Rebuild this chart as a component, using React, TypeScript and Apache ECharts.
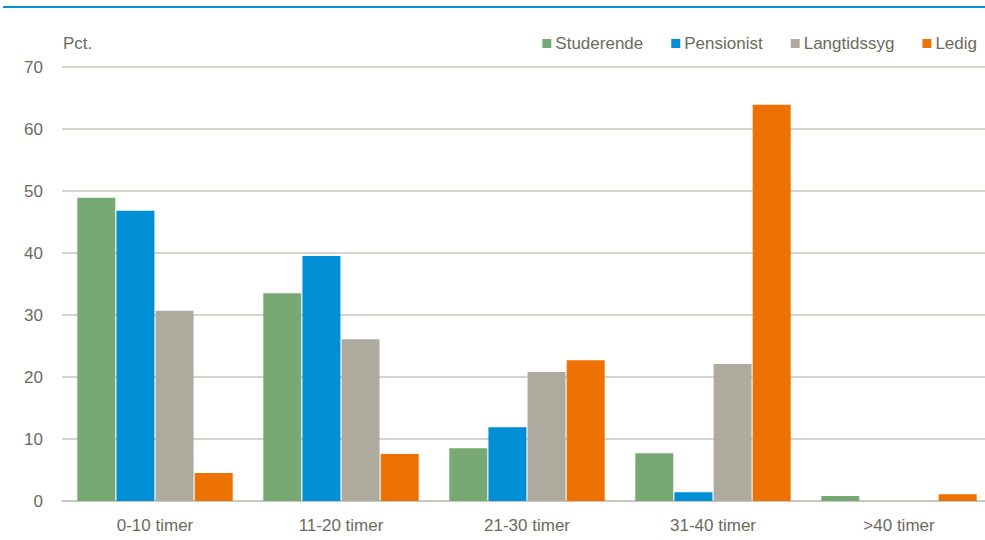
import React, { useEffect, useRef } from "react";
import * as echarts from "echarts";

const categories = ["0-10 timer", "11-20 timer", "21-30 timer", "31-40 timer", ">40 timer"];
const studerende = [48.9, 33.5, 8.5, 7.7, 0.8];
const pensionist = [46.8, 39.5, 11.9, 1.4, 0];
const langtidssyg = [30.7, 26.1, 20.8, 22.1, 0];
const ledig = [4.5, 7.6, 22.7, 63.9, 1.1];
const seriesNames = ["Studerende", "Pensionist", "Langtidssyg", "Ledig"];
const colors = ["#77aa72", "#008fd5", "#aeab9e", "#ee7203"];

const textColor = "#6b6b5c";
const font = "'Liberation Sans', Arial, sans-serif";

export default function App() {
  const ref = useRef<HTMLDivElement>(null);
  useEffect(() => {
    if (!ref.current) return;
    const chart = echarts.init(ref.current, undefined, { renderer: "svg" });
    const data = [studerende, pensionist, langtidssyg, ledig];
    chart.setOption({
      animation: false,
      backgroundColor: "#ffffff",
      textStyle: { fontFamily: font },
      graphic: [
        { type: "rect", shape: { x: 3, y: 6, width: 990, height: 2 }, style: { fill: "#0a8fd0" } },
        { type: "text", left: 63, top: 35, style: { text: "Pct.", fontSize: 17, fill: textColor, fontFamily: font } },
      ],
      legend: {
        right: 15,
        top: 35,
        padding: 0,
        itemWidth: 9,
        itemHeight: 9,
        itemGap: 28,
        icon: "rect",
        textStyle: { fontSize: 17, color: textColor, fontFamily: font, padding: [0, 0, 0, -1] },
        data: seriesNames,
      },
      grid: { left: 62, top: 67, right: 0, bottom: 39, containLabel: false },
      xAxis: {
        type: "category",
        data: categories,
        axisLine: { show: true, lineStyle: { color: "#c8c8c0", width: 2 } },
        axisTick: { show: false },
        axisLabel: { fontSize: 17, color: textColor, margin: 16, fontFamily: font },
      },
      yAxis: {
        type: "value",
        min: 0,
        max: 70,
        interval: 10,
        axisLine: { show: false },
        axisTick: { show: false },
        axisLabel: { fontSize: 17, color: textColor, margin: 19, fontFamily: font },
        splitLine: { lineStyle: { color: "#d4d4cc", width: 2 } },
      },
      series: seriesNames.map((name, i) => ({
        name,
        type: "bar",
        data: data[i],
        barWidth: 38,
        barGap: "3%",
        itemStyle: { color: colors[i] },
      })),
    });
    return () => chart.dispose();
  }, []);
  return (
    <div style={{ position: "absolute", left: 0, top: 0, width: 985, height: 540, overflow: "hidden" }}>
      <div ref={ref} style={{ position: "absolute", left: 0, top: 0, width: 992, height: 540 }} />
    </div>
  );
}
